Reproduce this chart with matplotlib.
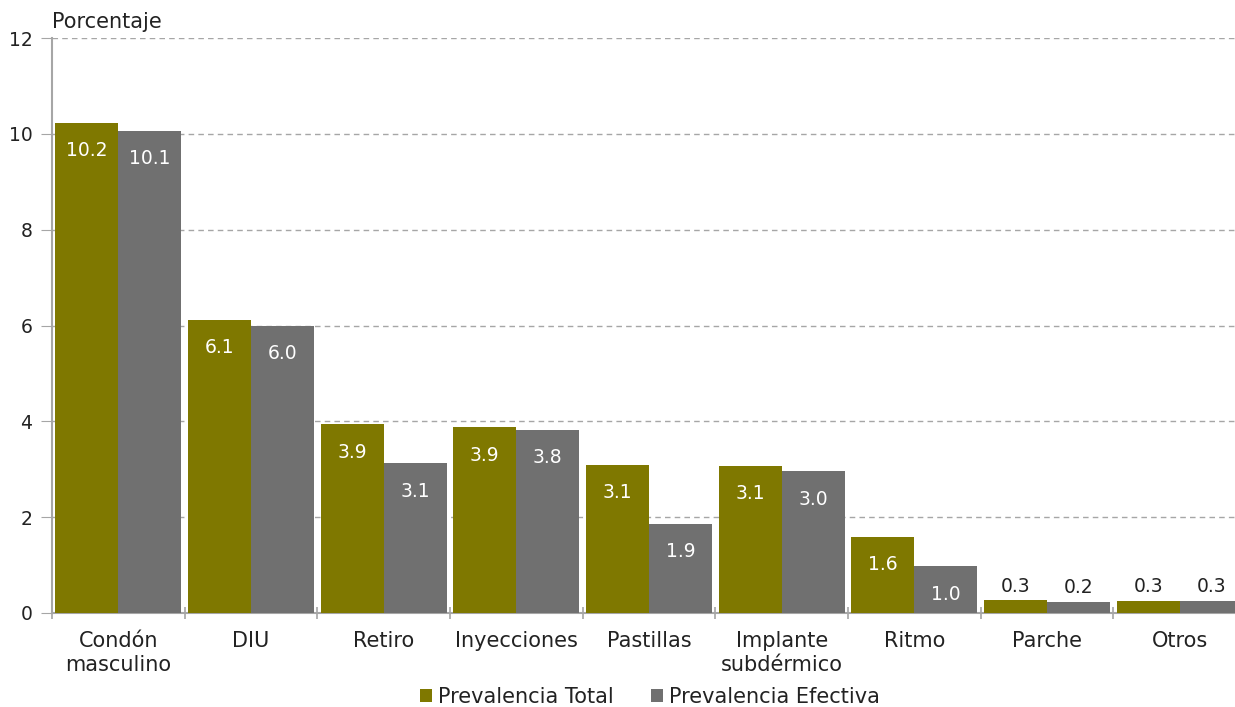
import matplotlib
matplotlib.use("Agg")
import matplotlib.pyplot as plt
import numpy as np
from matplotlib.ticker import FixedLocator

plt.rcParams['font.family'] = ['DejaVu Sans']

categories = ["Condón\nmasculino", "DIU", "Retiro", "Inyecciones", "Pastillas",
              "Implante\nsubdérmico", "Ritmo", "Parche", "Otros"]
total = [10.23, 6.12, 3.94, 3.88, 3.09, 3.07, 1.59, 0.27, 0.26]
efectiva = [10.06, 5.99, 3.13, 3.82, 1.86, 2.96, 0.98, 0.23, 0.26]
series_names = ["Prevalencia Total", "Prevalencia Efectiva"]
colors = ["#7F7800", "#707070"]

fig = plt.figure(figsize=(12.35, 7.07), dpi=100)
ax = fig.add_axes([52/1235, 1-613/707, 1194/1235, (613-38)/707])

x = np.arange(len(categories))
w = 0.475
b1 = ax.bar(x - w/2, total, w, color=colors[0], label=series_names[0], zorder=3)
b2 = ax.bar(x + w/2, efectiva, w, color=colors[1], label=series_names[1], zorder=3)

for bars in (b1, b2):
    for r in bars:
        v = r.get_height()
        cx = r.get_x() + r.get_width()/2
        if v > 0.8:
            ax.annotate(f"{v:.1f}", (cx, v), xytext=(0, -28), textcoords="offset pixels",
                        ha="center", va="center", color="white", fontsize=13.5, zorder=4)
        else:
            ax.annotate(f"{v:.1f}", (cx, v), xytext=(0, 14), textcoords="offset pixels",
                        ha="center", va="center", color="#222222", fontsize=13.5, zorder=4)

ax.set_xlim(-0.5, len(categories) - 0.5)
ax.set_ylim(0, 12)
ax.set_yticks(np.arange(0, 13, 2))
ax.set_xticks(x)
ax.set_xticklabels(categories, fontsize=15, color="#222222", linespacing=1.22)
ax.xaxis.set_minor_locator(FixedLocator(np.arange(-0.5, len(categories), 1)))
ax.tick_params(axis="x", which="major", length=0, pad=13)
ax.tick_params(axis="x", which="minor", length=8, width=1.2, color="#A6A6A6", direction="inout")
ax.tick_params(axis="y", length=8, color="#A6A6A6", labelsize=13.5, labelcolor="#222222", pad=6)

ax.grid(axis="y", color="#A6A6A6", linestyle=(0, (4, 3)), linewidth=1, zorder=0)
for s in ["top", "right"]:
    ax.spines[s].set_visible(False)
for s in ["left", "bottom"]:
    ax.spines[s].set_color("#A6A6A6")
    ax.spines[s].set_linewidth(1.5)

fig.text(52/1235, 1-22/707, "Porcentaje", fontsize=15, color="#222222", va="center", ha="left")

fig.legend(handles=[b1, b2], labels=series_names, loc="center", bbox_to_anchor=(650/1235, 1-697/707),
           ncol=2, frameon=False, fontsize=15, handlelength=0.55, handleheight=0.55,
           handletextpad=0.3, columnspacing=1.8, labelcolor="#222222")

fig.savefig("out.png", dpi=100)
